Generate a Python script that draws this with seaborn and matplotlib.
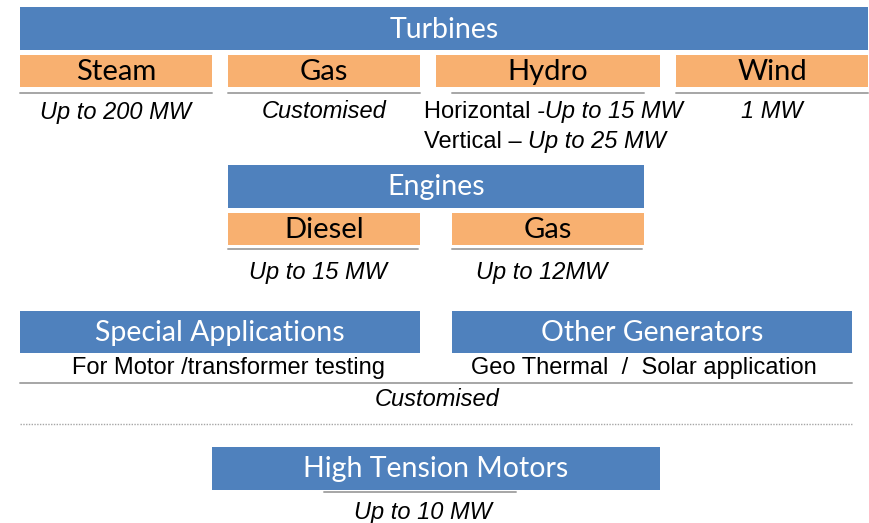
import matplotlib
matplotlib.use("Agg")
import matplotlib.pyplot as plt
import seaborn as sns

sns.set_theme(style="white")
plt.rcParams['font.family'] = ['Liberation Sans', 'DejaVu Sans']

# data: groups, sub-types and their ratings
groups = ["Turbines", "Engines", "Special Applications", "Other Generators", "High Tension Motors"]
turbine_types = ["Steam", "Gas", "Hydro", "Wind"]
turbine_ratings = ["Up to 200 MW", "Customised", None, "1 MW"]
hydro_lines = [("Horizontal ", "-Up to 15 MW"), ("Vertical \u2013 ", "Up to 25 MW")]
engine_types = ["Diesel", "Gas"]
engine_ratings = ["Up to 15 MW", "Up to 12MW"]
special_notes = ["For Motor /transformer testing", "Geo Thermal  /  Solar application"]
special_rating = "Customised"
ht_rating = "Up to 10 MW"

# layout in pixel units (left, right, top, bottom)
blue = "#4F81BD"
orange = "#F8B070"
grey = "#A6A6A6"
head_font = "Lato"
rate_size = 17

group_boxes = [(20, 868, 7, 50), (228, 644, 165, 208), (20, 420, 311, 353),
               (452, 852, 311, 353), (212, 660, 447, 490)]
turbine_boxes = [(20, 212), (228, 420), (436, 660), (676, 868)]
turbine_lines = [(20, 212), (228, 420), (452, 644), (676, 868)]
engine_boxes = [(228, 420), (452, 644)]
note_x = [228, 644]

fig = plt.figure(figsize=(8.69, 5.23), dpi=100)
ax = fig.add_axes([0, 0, 1, 1])
ax.set_xlim(0, 869)
ax.set_ylim(523, 0)
ax.axis("off")


def box(l, r, t, b, color):
    ax.barh((t + b) / 2, r - l, height=b - t, left=l, color=color, linewidth=0)


# blue group headers
for name, (l, r, t, b) in zip(groups, group_boxes):
    box(l, r, t, b, blue)
    ax.text((l + r) / 2, (t + b) / 2 + 1, name, color="white", fontsize=20.5,
            family=head_font, ha="center", va="center")

# turbines
for name, rating, (l, r), (ll, lr) in zip(turbine_types, turbine_ratings, turbine_boxes, turbine_lines):
    box(l, r, 55, 87, orange)
    ax.text((l + r) / 2, 72, name, fontsize=21, family=head_font, ha="center", va="center", color="black")
    ax.plot([ll, lr], [93, 93], color=grey, lw=1.4)
    if rating:
        ax.text((l + r) / 2, 112, rating, fontsize=rate_size, style="italic", ha="center", va="center", color="black")

for i, (plain, ital) in enumerate(hydro_lines):
    t = ax.text(424, 112 + 30 * i, plain, fontsize=rate_size, ha="left", va="center", color="black")
    ax.annotate(ital, xy=(1, 0), xycoords=t, va="bottom", ha="left", fontsize=rate_size,
                style="italic", color="black")

# engines
for name, rating, (l, r) in zip(engine_types, engine_ratings, engine_boxes):
    box(l, r, 213, 245, orange)
    ax.text((l + r) / 2, 230, name, fontsize=21, family=head_font, ha="center", va="center", color="black")
    ax.plot([l, r - 2], [249, 249], color=grey, lw=1.4)
    ax.text((l + r) / 2 - 6, 272, rating, fontsize=rate_size, style="italic", ha="center", va="center", color="black")

# special applications / other generators
for note, x in zip(special_notes, note_x):
    ax.text(x, 368, note, fontsize=17, ha="center", va="center", color="black")
ax.plot([20, 852], [383, 383], color=grey, lw=1.4)
ax.text(437, 400, special_rating, fontsize=rate_size, style="italic", ha="center", va="center", color="black")
ax.plot([20, 852], [424, 424], color=grey, lw=1, ls=(0, (1, 1)))

# high tension motors
ax.plot([324, 516], [492, 492], color=grey, lw=1.4)
ax.text(423, 512, ht_rating, fontsize=rate_size, style="italic", ha="center", va="center", color="black")

fig.savefig("out.png", dpi=100, facecolor="white")
